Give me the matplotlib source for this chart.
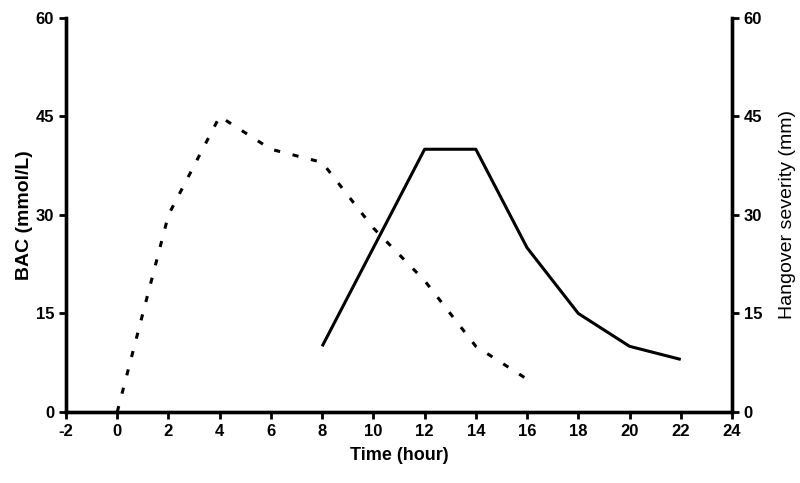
import matplotlib
matplotlib.use("Agg")
import matplotlib.pyplot as plt

# BAC (dashed) and hangover severity (solid) over time
bac_time = [0, 2, 4, 6, 8, 10, 12, 14, 16]
bac_values = [0, 30, 45, 40, 38, 28, 20, 10, 5]
hangover_time = [8, 12, 14, 16, 18, 20, 22]
hangover_values = [10, 40, 40, 25, 15, 10, 8]

x_ticks = list(range(-2, 25, 2))
y_ticks = [0, 15, 30, 45, 60]

plt.rcParams['font.family'] = ['Liberation Sans', 'DejaVu Sans']

fig = plt.figure(figsize=(8, 4.83), dpi=100)
ax = fig.add_axes([0.0825, 0.147, 0.8325, 0.816])
ax2 = ax.twinx()

ax.plot(bac_time, bac_values, color='black', linewidth=2.2,
        linestyle=(0, (2.0, 4.2)))
ax2.plot(hangover_time, hangover_values, color='black', linewidth=2.2,
         solid_capstyle='butt')

for a in (ax, ax2):
    a.set_xlim(-2, 24)
    a.set_ylim(0, 60)
    a.set_yticks(y_ticks)
    a.spines['top'].set_visible(False)
    for s in a.spines.values():
        s.set_linewidth(2.4)
    a.tick_params(width=2, length=5, labelsize=12)

ax.set_xticks(x_ticks)
ax.set_xticklabels([str(t) for t in x_ticks], fontweight='bold')
ax.set_yticklabels([str(t) for t in y_ticks], fontweight='bold')
ax2.set_yticklabels([str(t) for t in y_ticks], fontweight='bold')

ax.set_xlabel('Time (hour)', fontsize=13, fontweight='bold', labelpad=6)
ax.set_ylabel('BAC (mmol/L)', fontsize=14, fontweight='bold', labelpad=2)
ax2.set_ylabel('Hangover severity (mm)', fontsize=14, labelpad=12)

fig.savefig('out.png', dpi=100)
